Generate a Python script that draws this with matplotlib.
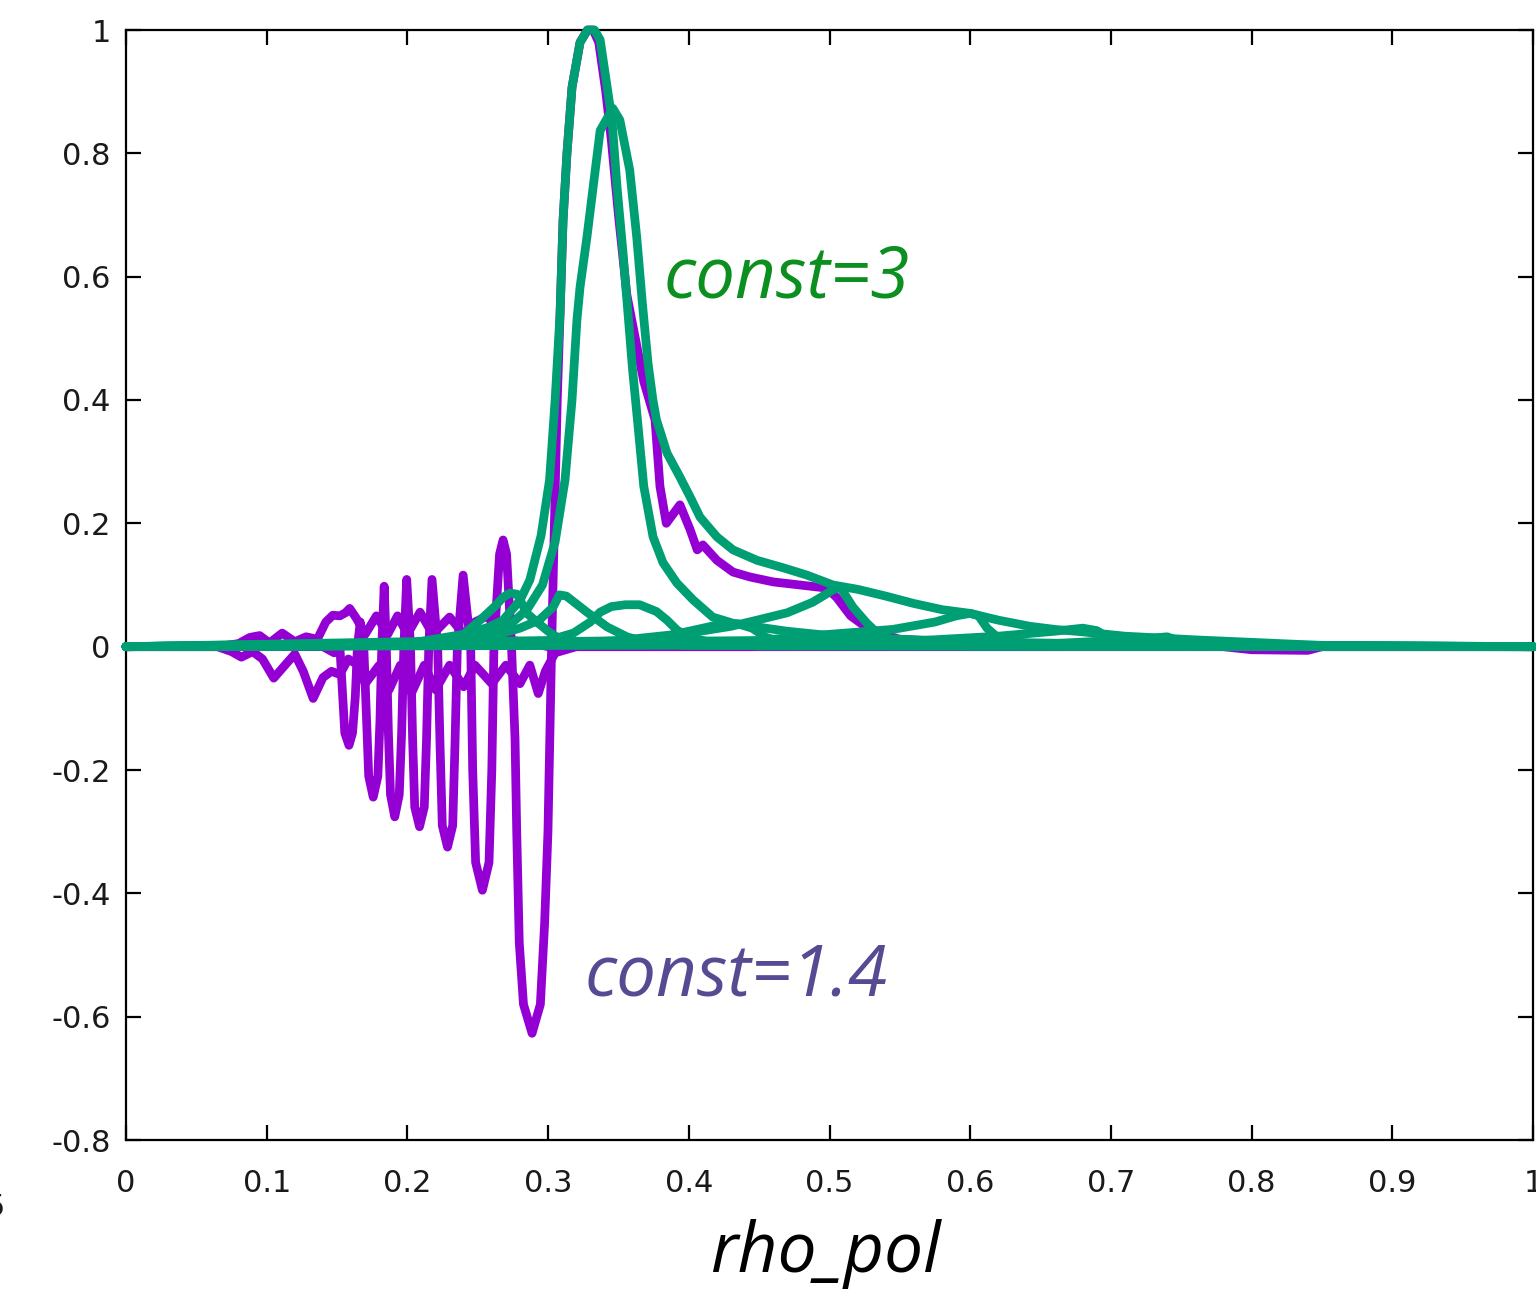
import matplotlib.pyplot as plt

# gnuplot default line colours
PURPLE = '#9400d3'
GREEN = '#009e73'

# const=1.4 curves (purple), rho_pol / value pairs
purple_main_x = [0.0, 0.14, 0.148,
                 0.152, 0.154, 0.1555, 0.1585, 0.161, 0.163, 0.1645, 0.1665,
                 0.169, 0.171, 0.1725, 0.1757, 0.179, 0.1805, 0.1818, 0.1835,
                 0.185, 0.1865, 0.188, 0.191, 0.1942, 0.1959, 0.1975, 0.1995,
                 0.2022, 0.2037, 0.2052, 0.2086, 0.212, 0.2136, 0.2152, 0.2175,
                 0.2215, 0.2232, 0.2248, 0.2285, 0.2322, 0.2338, 0.2355, 0.2396,
                 0.245, 0.2464, 0.2485, 0.2533, 0.258, 0.26, 0.2615, 0.2655, 0.268, 0.2705,
                 0.274, 0.2765, 0.2777, 0.2795, 0.2825, 0.2886, 0.2945, 0.2975, 0.2999,
                 0.3012, 0.3025, 0.3045, 0.3065, 0.3085, 0.3106, 0.3134, 0.317, 0.3227, 0.328,
                 0.332, 0.336, 0.341, 0.345, 0.35, 0.356, 0.362, 0.368, 0.376, 0.3795, 0.384,
                 0.3937, 0.4009, 0.406, 0.41, 0.42, 0.4314, 0.4435, 0.46, 0.479, 0.498, 0.505,
                 0.515, 0.53, 0.55, 0.6, 0.7, 0.78, 0.8, 0.84, 0.85, 1.0]
purple_main_y = [0.0, 0.0, -0.01,
                 0.0, -0.08, -0.14, -0.16, -0.14, -0.08, 0.0, 0.04,
                 0.0, -0.12, -0.21, -0.244, -0.21, -0.12, 0.0, 0.098,
                 0.0, -0.14, -0.24, -0.276, -0.24, -0.14, 0.0, 0.109,
                 0.0, -0.15, -0.26, -0.292, -0.26, -0.15, 0.0, 0.109,
                 0.0, -0.16, -0.29, -0.325, -0.29, -0.16, 0.0, 0.116,
                 0.0, -0.2, -0.35, -0.395, -0.35, -0.2, 0.0, 0.15, 0.173, 0.15,
                 0.0, -0.15, -0.3, -0.48, -0.58, -0.627, -0.58, -0.45, -0.3,
                 -0.15, 0.0, 0.2, 0.4, 0.54, 0.69, 0.8, 0.907, 0.98, 1.0,
                 1.0, 0.98, 0.9, 0.82, 0.7, 0.57, 0.5, 0.43, 0.368, 0.26, 0.2,
                 0.23, 0.19, 0.157, 0.165, 0.14, 0.121, 0.113, 0.105, 0.1, 0.095, 0.08,
                 0.05, 0.025, 0.012, 0.006, 0.003, 0.0, -0.005, -0.006, 0.0, 0.0]

purple_upper_x = [0.0, 0.065, 0.08, 0.088, 0.095, 0.102, 0.111, 0.12, 0.128, 0.136, 0.142,
                  0.147, 0.152, 0.156, 0.159, 0.164, 0.17, 0.178, 0.186, 0.193, 0.2, 0.209,
                  0.218, 0.23, 0.24, 0.248, 0.257, 0.265, 0.275, 0.29, 0.3, 1.0]
purple_upper_y = [0.0, 0.0, 0.005, 0.015, 0.018, 0.006, 0.022, 0.008, 0.016, 0.012, 0.04,
                  0.051, 0.05, 0.055, 0.062, 0.045, 0.02, 0.05, 0.02, 0.05, 0.02, 0.056,
                  0.02, 0.048, 0.02, 0.04, 0.05, 0.02, 0.01, 0.005, 0.0, 0.0]

purple_lower_x = [0.0, 0.065, 0.075, 0.082, 0.09, 0.097, 0.105, 0.113, 0.12, 0.126, 0.133,
                  0.14, 0.146, 0.152, 0.158, 0.165, 0.17, 0.18, 0.187, 0.195, 0.203, 0.212,
                  0.22, 0.23, 0.24, 0.248, 0.26, 0.27, 0.28, 0.287, 0.293, 0.298, 0.305,
                  0.32, 1.0]
purple_lower_y = [0.0, 0.0, -0.008, -0.017, -0.008, -0.02, -0.051, -0.03, -0.012, -0.04, -0.084,
                  -0.05, -0.04, -0.045, -0.02, -0.03, -0.06, -0.03, -0.07, -0.03, -0.075, -0.03,
                  -0.07, -0.03, -0.065, -0.03, -0.06, -0.03, -0.06, -0.03, -0.076, -0.04, -0.01,
                  0.0, 0.0]

# const=3 curves (green)
green_peak_x = [0.0, 0.2, 0.23, 0.245, 0.258, 0.268, 0.28, 0.287, 0.295, 0.301, 0.305,
                0.3085, 0.3106, 0.3134, 0.317, 0.3227, 0.328, 0.333, 0.337, 0.342, 0.3454,
                0.349, 0.3532, 0.3568, 0.36, 0.3635, 0.368, 0.3746, 0.3817, 0.3916, 0.403,
                0.417, 0.4314, 0.4485, 0.47, 0.5, 0.55, 0.6, 0.7, 0.8, 1.0]
green_peak_y = [0.0, 0.002, 0.01, 0.022, 0.032, 0.043, 0.075, 0.108, 0.18, 0.27, 0.4,
                0.54, 0.69, 0.8, 0.907, 0.98, 1.0, 1.0, 0.984, 0.907, 0.854,
                0.745, 0.64, 0.54, 0.45, 0.368, 0.26, 0.178, 0.136, 0.103, 0.076,
                0.048, 0.038, 0.032, 0.025, 0.018, 0.012, 0.008, 0.004, 0.001, 0.0]

green_second_x = [0.0, 0.2, 0.25, 0.27, 0.285, 0.296, 0.305, 0.312, 0.317, 0.3205, 0.3227,
                  0.3276, 0.332, 0.337, 0.346, 0.351, 0.358, 0.363, 0.367, 0.371, 0.3745,
                  0.377, 0.3845, 0.3937, 0.4009, 0.408, 0.42, 0.4314, 0.4485, 0.467, 0.484,
                  0.5025, 0.52, 0.54, 0.56, 0.58, 0.6, 0.62, 0.6425, 0.66, 0.68, 0.71, 0.76,
                  0.8, 0.85, 1.0]
green_second_y = [0.0, 0.002, 0.012, 0.03, 0.06, 0.1, 0.17, 0.27, 0.4, 0.53, 0.583,
                  0.664, 0.745, 0.837, 0.873, 0.854, 0.773, 0.664, 0.557, 0.46, 0.4,
                  0.368, 0.314, 0.275, 0.243, 0.21, 0.178, 0.157, 0.14, 0.128, 0.116,
                  0.1, 0.093, 0.082, 0.07, 0.06, 0.054, 0.043, 0.033, 0.028, 0.024, 0.017, 0.011,
                  0.007, 0.002, 0.0]

green_bump_a_x = [0.0, 0.2, 0.24, 0.2516, 0.262, 0.268, 0.2729, 0.278, 0.285, 0.292, 0.3, 0.31, 0.33, 1.0]
green_bump_a_y = [0.0, 0.005, 0.02, 0.043, 0.065, 0.08, 0.087, 0.085, 0.054, 0.04, 0.025, 0.01, 0.003, 0.0]

green_bump_b_x = [0.0, 0.25, 0.28, 0.2936, 0.3035, 0.308, 0.313, 0.3276, 0.342, 0.356, 0.37, 0.4, 1.0]
green_bump_b_y = [0.0, 0.01, 0.03, 0.043, 0.064, 0.084, 0.082, 0.056, 0.032, 0.016, 0.007, 0.002, 0.0]

green_bump_c_x = [0.0, 0.3, 0.318, 0.33, 0.337, 0.345, 0.355, 0.365, 0.377, 0.3845, 0.3916, 0.4, 0.42, 0.45, 1.0]
green_bump_c_y = [0.0, 0.01, 0.022, 0.04, 0.056, 0.065, 0.068, 0.068, 0.057, 0.043, 0.027, 0.015, 0.005, 0.001, 0.0]

green_bump_d_x = [0.0, 0.37, 0.4, 0.42, 0.435, 0.445, 0.455, 0.47, 1.0]
green_bump_d_y = [0.0, 0.01, 0.025, 0.035, 0.037, 0.03, 0.015, 0.005, 0.0]

green_bump_e_x = [0.0, 0.3, 0.35, 0.4, 0.43, 0.4485, 0.47, 0.488, 0.5025, 0.5075, 0.5167,
                  0.5266, 0.534, 0.545, 0.56, 0.6, 1.0]
green_bump_e_y = [0.0, 0.003, 0.01, 0.022, 0.033, 0.043, 0.055, 0.072, 0.092, 0.097, 0.064,
                  0.038, 0.022, 0.01, 0.004, 0.001, 0.0]

green_bump_f_x = [0.0, 0.45, 0.5, 0.545, 0.575, 0.59, 0.6, 0.606, 0.612, 0.618, 0.63, 0.65, 1.0]
green_bump_f_y = [0.0, 0.01, 0.02, 0.028, 0.04, 0.05, 0.054, 0.05, 0.03, 0.018, 0.008, 0.003, 0.0]

green_bump_g_x = [0.0, 0.55, 0.62, 0.66, 0.68, 0.69, 0.7, 0.72, 1.0]
green_bump_g_y = [0.0, 0.008, 0.017, 0.025, 0.03, 0.026, 0.012, 0.004, 0.0]

green_bump_h_x = [0.0, 0.65, 0.72, 0.74, 0.75, 0.77, 1.0]
green_bump_h_y = [0.0, 0.004, 0.012, 0.016, 0.008, 0.002, 0.0]

x_ticks = [0.0, 0.1, 0.2, 0.3, 0.4, 0.5, 0.6, 0.7, 0.8, 0.9, 1.0]
x_tick_labels = ['0', '0.1', '0.2', '0.3', '0.4', '0.5', '0.6', '0.7', '0.8', '0.9', '1']
y_ticks = [-0.8, -0.6, -0.4, -0.2, 0.0, 0.2, 0.4, 0.6, 0.8, 1.0]
y_tick_labels = ['-0.8', '-0.6', '-0.4', '-0.2', '0', '0.2', '0.4', '0.6', '0.8', '1']

LINE_WIDTH = 6.3


def plot_curves(ax: plt.Axes):
    purple_curves = [
        (purple_lower_x, purple_lower_y),
        (purple_upper_x, purple_upper_y),
        (purple_main_x, purple_main_y),
    ]
    for xs, ys in purple_curves:
        ax.plot(xs, ys, color=PURPLE, lw=LINE_WIDTH, solid_capstyle='round',
                solid_joinstyle='round', clip_on=False, zorder=2)

    green_curves = [
        (green_bump_h_x, green_bump_h_y),
        (green_bump_g_x, green_bump_g_y),
        (green_bump_f_x, green_bump_f_y),
        (green_bump_e_x, green_bump_e_y),
        (green_bump_d_x, green_bump_d_y),
        (green_bump_c_x, green_bump_c_y),
        (green_bump_b_x, green_bump_b_y),
        (green_bump_a_x, green_bump_a_y),
        (green_second_x, green_second_y),
        (green_peak_x, green_peak_y),
    ]
    for xs, ys in green_curves:
        ax.plot(xs, ys, color=GREEN, lw=LINE_WIDTH, solid_capstyle='round',
                solid_joinstyle='round', clip_on=False, zorder=3)


def main():
    fig = plt.figure(figsize=(15.36, 12.89), dpi=100)
    ax = fig.add_axes([126 / 1536, 1 - 1140 / 1289, (1533 - 126) / 1536, (1140 - 30) / 1289])

    plot_curves(ax)

    ax.set_xlim(0, 1)
    ax.set_ylim(-0.8, 1)
    ax.set_xticks(x_ticks)
    ax.set_xticklabels(x_tick_labels)
    ax.set_yticks(y_ticks)
    ax.set_yticklabels(y_tick_labels)
    ax.tick_params(direction='in', length=11, width=1.6, top=True, right=True,
                   labelsize=22, labelcolor='#1a1a1a')
    ax.tick_params(axis='x', pad=21)
    ax.tick_params(axis='y', pad=11)
    for spine in ax.spines.values():
        spine.set_linewidth(1.6)
        spine.set_zorder(1)

    ax.text(0.3817, 0.567, 'const=3', color='#0b8f1f', fontsize=51,
            family='Open Sans', style='italic', ha='left', va='baseline')
    ax.text(0.326, -0.565, 'const=1.4', color='#564a92', fontsize=51,
            family='Open Sans', style='italic', ha='left', va='baseline')

    fig.text(825 / 1536, 1 - 1272 / 1289, 'rho_pol', fontsize=50,
             family='Open Sans', style='italic', ha='center', va='baseline')
    # tick label cut off at the left edge of the original screenshot
    fig.text(-0.009, 1 - 1216 / 1289, '5', fontsize=22, color='#1a1a1a', va='baseline')

    fig.savefig('out.png', dpi=100)
    plt.close(fig)


if __name__ == '__main__':
    main()
